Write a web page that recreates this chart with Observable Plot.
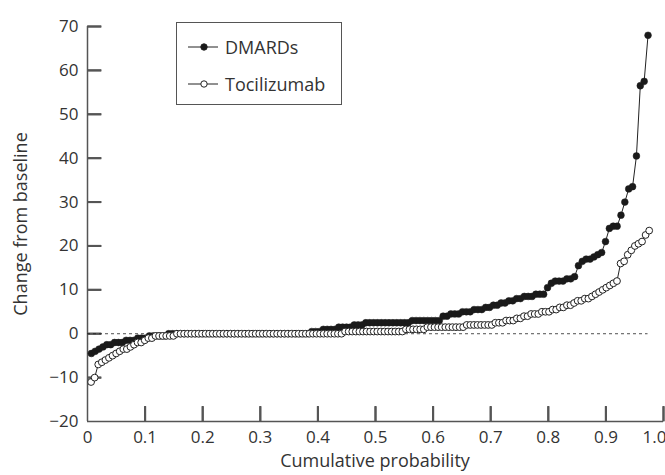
<!DOCTYPE html>
<html>
<head>
<meta charset="utf-8">
<script src="https://cdn.jsdelivr.net/npm/d3@7"></script>
<script src="https://cdn.jsdelivr.net/npm/@observablehq/plot@0.6"></script>
<style>
  html, body { margin: 0; padding: 0; background: #fff; }
  #wrap { position: relative; width: 665px; height: 475px; font-family: "Open Sans", Lato, sans-serif; color: #333; overflow: hidden; }
  #wrap > svg { position: absolute; left: 0; top: 0; }
  .ttl { position: absolute; font-size: 18px; color: #333; white-space: nowrap; line-height: 1.1; }
  #legend { position: absolute; left: 176px; top: 22px; width: 166px; height: 83px; border: 1px solid #555; box-sizing: border-box; background: #fff; }
  .li { position: absolute; left: 10px; height: 24px; display: flex; align-items: center; font-size: 18px; color: #333; line-height: 1; }
  .li svg { margin-right: 6px; }
</style>
</head>
<body>
<div id="wrap"></div>
<script>
// Sorted change from baseline, DMARDs group
const dmards = [
  -4.5, -4, -3.5,
  -3, -2.5, -2.5, -2,
  -2, -2, -1.5, -1.5,
  -1.5, -1, -1, -1,
  -0.5, -0.5, -0.5, -0.5, -0.5,
  0, 0, 0, 0, 0, 0, 0, 0, 0, 0,
  0, 0, 0, 0, 0, 0, 0, 0, 0, 0,
  0, 0, 0, 0, 0, 0, 0, 0, 0, 0,
  0, 0, 0, 0, 0, 0, 0,
  0.5, 0.5, 0.5,
  1, 1, 1, 1,
  1.5, 1.5, 1.5, 1.5,
  2, 2, 2,
  2.5, 2.5, 2.5, 2.5, 2.5, 2.5, 2.5, 2.5, 2.5, 2.5, 2.5, 2.5,
  3, 3, 3, 3, 3, 3, 3, 3,
  4, 4, 4.5, 4.5, 4.5,
  5, 5, 5, 5.5, 5.5, 5.5, 6, 6,
  6.5, 6.5, 7, 7, 7.5, 7.5, 8,
  8, 8.5, 8.5, 8.5, 9, 9, 9,
  10.5, 11.5, 12, 12, 12, 12.5, 12.5, 13,
  15.5, 16.5, 17, 17, 17.5, 18, 18.5,
  21, 24, 24.5, 24.5, 27, 30, 33, 33.5, 40.5, 56.5, 57.5, 68
];
// Sorted change from baseline, tocilizumab group
const tocilizumab = [
  -11, -10, -7, -6.5, -6, -5.5, -5, -4.5, -4, -3.5, -3.5, -3, -2.5, -2, -2, -1.5, -1, -1,
  -0.5, -0.5, -0.5, -0.5, -0.5, -0.5,
  0, 0, 0, 0, 0, 0, 0, 0, 0, 0,
  0, 0, 0, 0, 0, 0, 0, 0, 0, 0,
  0, 0, 0, 0, 0, 0, 0, 0, 0, 0,
  0, 0, 0, 0, 0, 0, 0, 0, 0, 0,
  0, 0, 0, 0, 0, 0, 0,
  0.5, 0.5, 0.5, 0.5, 0.5, 0.5, 0.5, 0.5, 0.5, 0.5, 0.5, 0.5, 0.5, 0.5, 0.5, 0.5, 0.5,
  1, 1, 1, 1, 1, 1,
  1.5, 1.5, 1.5, 1.5, 1.5, 1.5, 1.5, 1.5, 1.5, 1.5, 1.5,
  2, 2, 2, 2, 2, 2, 2, 2,
  2.5, 2.5, 2.5,
  3, 3, 3, 3.5, 3.5,
  4, 4, 4.5, 4.5, 4.5, 5, 5, 5,
  5.5, 5.5, 6, 6, 6.5, 6.5,
  7, 7.5, 7.5, 8, 8, 8.5, 9,
  9.5, 10, 10.5, 11,
  11.5, 12,
  16, 16.5, 18, 19, 20, 20.5, 21, 22.5, 23.5
];
const xTicks = [0, 0.1, 0.2, 0.3, 0.4, 0.5, 0.6, 0.7, 0.8, 0.9, 1.0];
const xTickLabels = ["0", "0.1", "0.2", "0.3", "0.4", "0.5", "0.6", "0.7", "0.8", "0.9", "1.0"];
const yTicks = [-20, -10, 0, 10, 20, 30, 40, 50, 60, 70];
const xTitle = "Cumulative probability";
const yTitle = "Change from baseline";
const seriesNames = ["DMARDs", "Tocilizumab"];

// empirical cumulative probability by rank
const toRows = (vals) => vals.map((v, i) => ({p: (i + 1) / (vals.length + 4), v}));
const dRows = toRows(dmards);
const tRows = toRows(tocilizumab);

const W = 665, H = 475, mL = 87, mR = 2, mT = 26, mB = 54;
const frameW = W - mL - mR, frameH = H - mT - mB;
const tickLen = 14;
const yMin = yTicks[0], yMax = yTicks[yTicks.length - 1];
const xMin = xTicks[0], xMax = xTicks[xTicks.length - 1];
// tick length expressed in data units of each scale
const xTickLenData = (xMax - xMin) * tickLen / frameW;
const yTickLenData = (yMax - yMin) * (tickLen + 1) / frameH;
const axisColor = "#555";

const xTickRows = xTicks.slice(1).map(x => ({x, y1: yMin, y2: yMin + yTickLenData}));
const yTickRows = yTicks.slice(1).map(y => ({y, x1: xMin, x2: xMin + xTickLenData}));

const chart = Plot.plot({
  width: W,
  height: H,
  marginLeft: mL,
  marginRight: mR,
  marginTop: mT,
  marginBottom: mB,
  x: {domain: [xMin, xMax]},
  y: {domain: [yMin, yMax]},
  marks: [
    Plot.ruleX([xMin], {stroke: axisColor, strokeWidth: 1.5}),
    Plot.ruleY([yMin], {stroke: axisColor, strokeWidth: 1.5}),
    Plot.axisX(xTicks.slice(0, -1), {tickSize: 0, tickPadding: 9, tickFormat: (d) => xTickLabels[xTicks.indexOf(d)], fill: "#333", fontSize: 17, label: null}),
    Plot.text([xMax], {x: d => d, y: yMin, text: d => xTickLabels[xTicks.indexOf(d)], textAnchor: "end", lineAnchor: "top", dx: 3, dy: 9, fill: "#333", fontSize: 17}),
    Plot.axisY(yTicks, {tickSize: 0, tickPadding: 9, fill: "#333", fontSize: 17, label: null}),
    // inward tick marks
    Plot.ruleX(xTickRows, {x: "x", y1: "y1", y2: "y2", stroke: axisColor, strokeWidth: 2}),
    Plot.ruleY(yTickRows, {y: "y", x1: "x1", x2: "x2", stroke: axisColor, strokeWidth: 2}),
    Plot.link(xTickRows, {x1: "x", x2: "x", y1: "y1", y2: "y2", stroke: axisColor, strokeWidth: 2}),
    Plot.link(yTickRows, {y1: "y", y2: "y", x1: "x1", x2: "x2", stroke: axisColor, strokeWidth: 2}),
    Plot.ruleY([0], {x1: xMin, x2: dRows[dRows.length - 1].p, stroke: "#222", strokeWidth: 0.8, strokeDasharray: "3,3"}),
    Plot.line(dRows, {x: "p", y: "v", stroke: "#222", strokeWidth: 1}),
    Plot.dot(dRows, {x: "p", y: "v", r: 3.4, fill: "#1a1a1a", stroke: "#1a1a1a", strokeWidth: 0.5}),
    Plot.line(tRows, {x: "p", y: "v", stroke: "#222", strokeWidth: 1}),
    Plot.dot(tRows, {x: "p", y: "v", r: 3.4, fill: "#fff", stroke: "#222", strokeWidth: 1})
  ]
});
chart.style.fontFamily = "'Open Sans', Lato, sans-serif";
chart.style.background = "transparent";

const wrap = document.getElementById("wrap");
wrap.appendChild(chart);

const xt = document.createElement("div");
xt.className = "ttl";
xt.textContent = xTitle;
xt.style.left = "375px"; xt.style.top = "461px";
xt.style.transform = "translate(-50%, -50%)";
wrap.appendChild(xt);

const yt = document.createElement("div");
yt.className = "ttl";
yt.textContent = yTitle;
yt.style.left = "21px"; yt.style.top = "224px";
yt.style.transform = "translate(-50%, -50%) rotate(-90deg)";
wrap.appendChild(yt);

const lg = document.createElement("div");
lg.id = "legend";
seriesNames.forEach((name, k) => {
  const item = document.createElement("div");
  item.className = "li";
  item.style.top = (k === 0 ? 12 : 49) + "px";
  const fill = k === 0 ? "#1a1a1a" : "#fff";
  item.innerHTML = `<svg width="32" height="12"><line x1="1" y1="6" x2="31" y2="6" stroke="#222" stroke-width="1"/><circle cx="17" cy="6" r="3.2" fill="${fill}" stroke="#222" stroke-width="1"/></svg>`;
  const s = document.createElement("span");
  s.textContent = name;
  item.appendChild(s);
  lg.appendChild(item);
});
wrap.appendChild(lg);
</script>
</body>
</html>
